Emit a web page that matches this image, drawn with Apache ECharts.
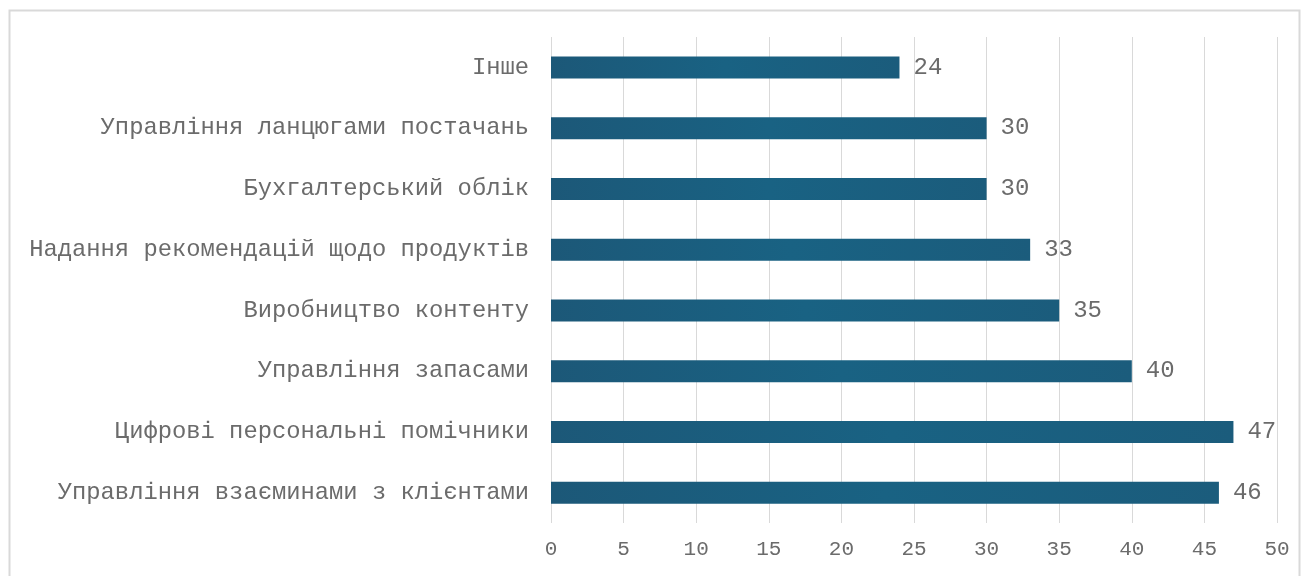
<!DOCTYPE html>
<html>
<head>
<meta charset="utf-8">
<script src="https://cdn.jsdelivr.net/npm/echarts@6/dist/echarts.min.js"></script>
<style>
  html, body { margin: 0; padding: 0; background: #fff; }
  #chart { width: 1309px; height: 576px; }
</style>
</head>
<body>
<div id="chart"></div>
<script>
var categories = [
    'Управління взаєминами з клієнтами',
    'Цифрові персональні помічники',
    'Управління запасами',
    'Виробництво контенту',
    'Надання рекомендацій щодо продуктів',
    'Бухгалтерський облік',
    'Управління ланцюгами постачань',
    'Інше'
];
var values = [46, 47, 40, 35, 33, 30, 30, 24];

var chartDom = document.getElementById('chart');
var myChart = echarts.init(chartDom);
var option;

var font = '"Liberation Mono", "Courier New", monospace';
var textColor = '#6b6b6b';

option = {
    animation: false,
    textStyle: { fontFamily: font, color: textColor },
    graphic: [
        {
            type: 'rect',
            shape: { x: 9.5, y: 10.5, width: 1290, height: 580 },
            style: { fill: 'none', stroke: '#d9d9d9', lineWidth: 2 }
        }
    ],
    grid: {
        left: 551,
        right: 32,
        top: 37,
        bottom: 53
    },
    xAxis: {
        type: 'value',
        min: 0,
        max: 50,
        interval: 5,
        axisLine: { show: false },
        axisTick: { show: false },
        axisLabel: { fontSize: 21, fontFamily: font, color: textColor, margin: 16 },
        splitLine: { lineStyle: { color: '#d9d9d9', width: 1 } }
    },
    yAxis: {
        type: 'category',
        data: categories,
        axisLine: { show: false },
        axisTick: { show: false },
        axisLabel: { fontSize: 23.8, fontFamily: font, color: textColor, margin: 22 }
    },
    series: [
        {
            type: 'bar',
            data: values,
            barWidth: 22,
            itemStyle: {
                color: new echarts.graphic.LinearGradient(0, 0, 1, 0, [
                    { offset: 0, color: '#1c5878' },
                    { offset: 0.5, color: '#196283' },
                    { offset: 1, color: '#1b5c7c' }
                ])
            },
            label: {
                show: true,
                position: 'right',
                distance: 14,
                fontSize: 24,
                fontFamily: font,
                color: textColor
            }
        }
    ]
};

option && myChart.setOption(option);
</script>
</body>
</html>
